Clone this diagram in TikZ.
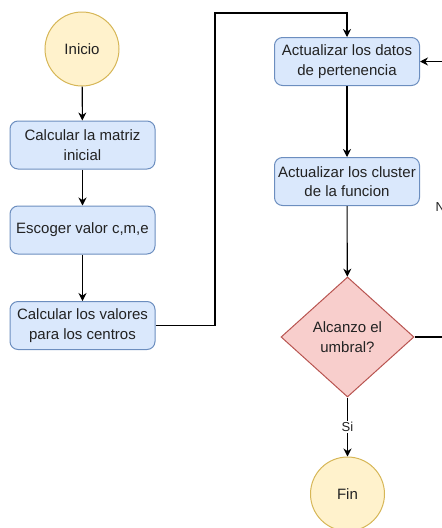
\documentclass[tikz,border=0pt]{standalone}
\usepackage{fontspec}
\setmainfont{Liberation Sans}
\usetikzlibrary{shapes.geometric, arrows.meta, positioning}
\definecolor{startfill}{HTML}{FFF2CC}
\definecolor{startline}{HTML}{D6B656}
\definecolor{procfill}{HTML}{DAE8FC}
\definecolor{procline}{HTML}{6C8EBF}
\definecolor{decfill}{HTML}{F8CECC}
\definecolor{decline}{HTML}{B85450}
\definecolor{txt}{HTML}{222222}
\tikzstyle{startstop} = [circle, minimum size=74pt, inner sep=0pt, draw=startline, fill=startfill, line width=1pt, text=txt, font=\fontsize{15}{19.5}\selectfont]
\tikzstyle{process} = [rectangle, rounded corners=8pt, minimum width=145pt, minimum height=48pt, align=center, draw=procline, fill=procfill, line width=1pt, text=txt, font=\fontsize{15}{19.5}\selectfont]
\tikzstyle{decision} = [diamond, minimum width=133pt, minimum height=120pt, inner sep=0pt, align=center, draw=decline, fill=decfill, line width=1pt, text=txt, font=\fontsize{15}{19.5}\selectfont]
\tikzstyle{arrow} = [line width=1.1pt, -{Stealth[length=8pt, width=8pt]}]
\tikzstyle{edgelabel} = [fill=white, inner sep=1pt, text=txt, font=\fontsize{13}{15}\selectfont]

\begin{document}
\begin{tikzpicture}[x=1pt, y=-1pt]
\useasboundingbox (0,0) rectangle (442,528);
\clip (0,0) rectangle (442,528);

% Nodes
\node (inicio) [startstop] at (82,49) {Inicio};
\node (matriz) [process] at (82.5,145) {Calcular la matriz\\inicial};
\node (escoger) [process] at (82.5,230) {Escoger valor c,m,e};
\node (centros) [process] at (82.5,325.5) {Calcular los valores\\para los centros};
\node (pertenencia) [process] at (347,61.5) {Actualizar los datos\\de pertenencia};
\node (cluster) [process] at (347,181.5) {Actualizar los cluster\\de la funcion};
\node (umbral) [decision] at (347.5,337) {Alcanzo el\\umbral?};
\node (fin) [startstop] at (347.5,494) {Fin};
\coordinate (topbend) at (215,13);
\coordinate (nobottom) at (444,337);
\coordinate (notop) at (444,61.5);

% Arrows
\draw [arrow] (inicio) -- (matriz);
\draw [arrow] (matriz) -- (escoger);
\draw [arrow] (escoger) -- (centros);
\draw [arrow] (centros.east) -| (topbend) -| (pertenencia.north);
\draw [arrow] (pertenencia) -- (cluster);
\draw [arrow] (cluster) -- (umbral);
\draw [arrow] (umbral) -- node [edgelabel] {Si} (fin);
\draw [arrow] (umbral.east) -- (nobottom) -- node [edgelabel, pos=0.47] {No} (notop) -- (pertenencia.east);

\end{tikzpicture}
\end{document}
